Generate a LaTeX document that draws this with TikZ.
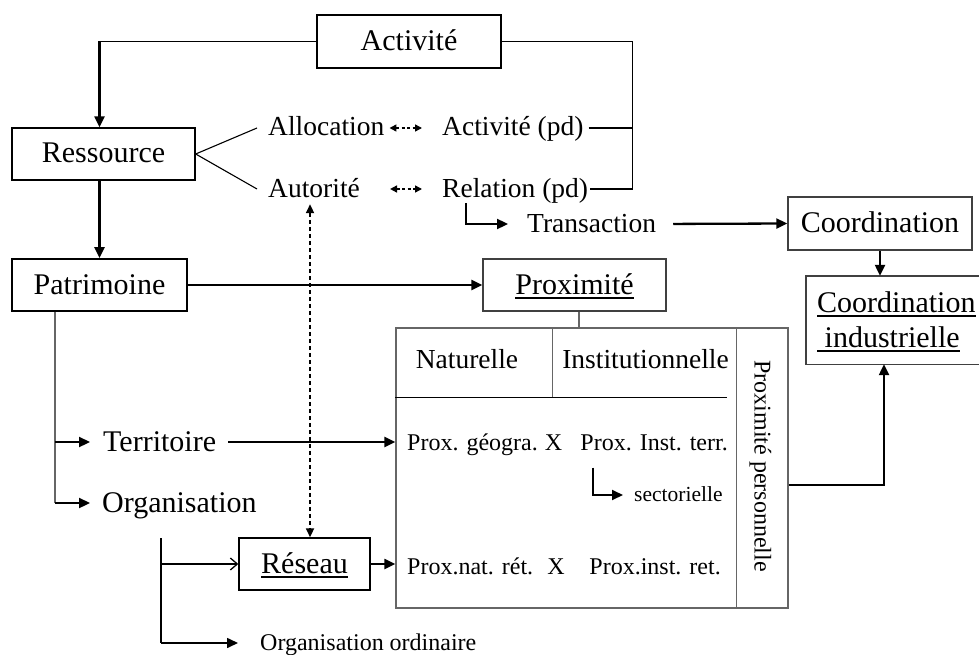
\documentclass[tikz,border=0pt]{standalone}
\usepackage{fontspec}
\setmainfont{Liberation Serif}
\usetikzlibrary{arrows.meta,calc}
\newcommand{\ulx}[1]{\leavevmode\setbox0=\hbox{#1}\rlap{\vrule width\wd0 height -2.6pt depth 4.8pt}\box0}
\definecolor{tabgray}{gray}{0.40}
\definecolor{boxgray}{gray}{0.25}
\begin{document}
\begin{tikzpicture}[x=1pt,y=-1pt,
  tbig/.style={font=\fontsize{30}{36}\selectfont, text height=21pt, text depth=3pt, inner sep=0pt},
  tmed/.style={font=\fontsize{27.5}{33}\selectfont, text height=19pt, text depth=3pt, inner sep=0pt},
  tsm/.style={font=\fontsize{24}{29}\selectfont, text height=17pt, text depth=2pt, inner sep=0pt},
  txs/.style={font=\fontsize{21.5}{26}\selectfont, text height=15pt, text depth=2pt, inner sep=0pt},
  box/.style={draw, line width=1.4pt},
  thinln/.style={line width=1.1pt},
  grayln/.style={line width=1.4pt, draw=tabgray},
  arr/.style={line width=2.3pt, -{Triangle[length=11pt,width=10pt]}},
  openarr/.style={line width=1.3pt, -{Straight Barb[length=7pt,width=12pt,line width=1.3pt]}},
  dasharr/.style={line width=1.5pt, dash pattern=on 3pt off 2.5pt,
     {Triangle[length=7pt,width=7pt]}-{Triangle[length=7pt,width=7pt]}},
  vdasharr/.style={line width=1.8pt, dash pattern=on 4pt off 3pt,
     {Triangle[length=9pt,width=8pt]}-{Triangle[length=9pt,width=8pt]}}
]
\useasboundingbox (0,0) rectangle (979,655);

% boxes
\node[box, tbig, line width=1.8pt, minimum width=184, minimum height=53] (act) at (409,41.5) {Activité};
\node[box, tbig, minimum width=183, minimum height=52] (res) at (103.5,154) {Ressource};
\node[box, tbig, line width=1.8pt, minimum width=175, minimum height=52] (pat) at (99.5,285) {Patrimoine};
\node[box, tbig, draw=boxgray, minimum width=183, minimum height=52] (prox) at (574.5,285) {\ulx{Proximité}};
\node[box, tbig, draw=boxgray, minimum width=184, minimum height=53] (coord) at (880,223.5) {Coordination};
\node[box, tbig, minimum width=131, minimum height=52] (reseau) at (304.5,564) {\ulx{Réseau}};

% coordination industrielle (box cut by the right edge)
\node[inner sep=0pt, minimum width=173, minimum height=88] (ci) at (892.5,320) {};
\draw[box, draw=boxgray] (ci.north east) -- (ci.north west) -- (ci.south west) -- (ci.south east);
\node[tbig, anchor=west] (ci1) at (817,303) {\ulx{Coordination}};
\node[tbig, anchor=west] (ci2) at (817,338) {\ulx{\ industrielle}};

% plain labels
\node[tmed, anchor=west] (alloc) at (268,128) {Allocation};
\node[tmed, anchor=west] (aut) at (268,189) {Autorité};
\node[tmed, anchor=west] (actpd) at (442,128) {Activité (pd)};
\node[tmed, anchor=west] (relpd) at (442,189) {Relation (pd)};
\node[tmed, anchor=west] (trans) at (527,224) {Transaction};
\node[tbig, anchor=west] (terr) at (103,442) {Territoire};
\node[tbig, anchor=west] (org) at (102,503) {Organisation};
\node[tsm, anchor=west] (orgord) at (260,643) {Organisation ordinaire};

% table
\node[draw=tabgray, line width=1.4pt, inner sep=0pt, minimum width=392, minimum height=280] (tab) at (592,468) {};
\draw[grayln] ([xshift=-52]tab.north east) -- ([xshift=-52]tab.south east);
\draw[grayln] ([xshift=157]tab.north west) -- ([xshift=157,yshift=-70]tab.north west);
\draw[thinln] ([yshift=-70]tab.north west) -- ([xshift=332,yshift=-70]tab.north west);
\node[tmed] (nat) at (467,360) {Naturelle};
\node[tmed] (inst) at (645.5,360) {Institutionnelle};
\node[tsm, anchor=west] (r1a) at (407,443) {Prox. géogra.};
\node[tsm] (r1x) at (553.5,443) {X};
\node[tsm, anchor=east] (r1b) at (728,443) {Prox. Inst. terr.};
\node[txs, anchor=west] (sect) at (634,495) {sectorielle};
\node[tsm, anchor=west] (r2a) at (407,567) {Prox.nat. rét.};
\node[tsm] (r2x) at (556,567) {X};
\node[tsm, anchor=east] (r2b) at (721,567) {Prox.inst. ret.};
\node[tsm, rotate=-90] (pp) at (762,466) {Proximité personnelle};

% connectors
\draw[thinln] (act.west) -- (act.west -| pat.north);
\draw[arr] (act.west -| pat.north) -- (pat.north |- res.north);
\draw[arr] (pat.north |- res.south) -- (pat.north);
\draw[thinln] (res.east) -- ([xshift=-11]alloc.west);
\draw[thinln] (res.east) -- ([xshift=-11]aut.west);
\draw[dasharr, shorten <=5pt, shorten >=20pt] (alloc.east) -- (actpd.west);
\draw[dasharr, shorten <=30pt, shorten >=20pt] (aut.east) -- (aut.east -| relpd.west);
\draw[thinln] (act.east) -- ++(131,0) coordinate (rj) -- (rj |- relpd.east) -- ([xshift=2]relpd.east);
\draw[thinln] ([xshift=5]actpd.east) -- (actpd.east -| rj);
\draw[arr, shorten >=19pt] ([xshift=24,yshift=-3]relpd.south west) |- (trans.west);
\draw[arr, shorten <=17pt] (trans.east) -- (coord.west);
\draw[arr] (coord.south) -- (coord.south |- ci.north);
\draw[arr] (pat.east) -- (prox.west);
\draw[grayln] ([xshift=4.5]prox.south) -- ([xshift=4.5]prox.south |- tab.north);
\draw[grayln] ([xshift=44]pat.south west) -- ([xshift=44]pat.south west |- org.west);
\draw[arr, shorten >=13pt] ([xshift=44]pat.south west |- terr.west) -- (terr.west);
\draw[arr, shorten >=12pt] ([xshift=44]pat.south west |- org.west) -- (org.west);
\draw[arr, shorten <=12pt] (terr.east) -- (terr.east -| tab.west);
\draw[vdasharr] ([xshift=-4,yshift=-4]aut.south) -- ([xshift=-4]aut.south |- reseau.north);
\coordinate (ob) at ([xshift=59,yshift=-23]org.south west);
\draw[thinln] (ob) -- (ob |- orgord.west);
\draw[openarr] (ob |- reseau.west) -- (reseau.west);
\draw[arr, line width=1.6pt, shorten >=22pt] (ob |- orgord.west) -- (orgord.west);
\draw[arr] (reseau.east) -- (reseau.east -| tab.west);
\draw[arr, line width=1.8pt, shorten >=11pt] ([xshift=13,yshift=-15]r1b.south west) |- (sect.west);
\draw[arr] ($(tab.south east)!0.44!(tab.north east)$) -| ([xshift=-8.5]ci.south);
\end{tikzpicture}
\end{document}
